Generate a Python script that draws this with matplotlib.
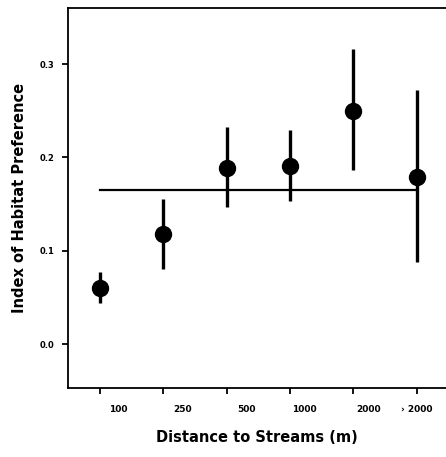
import numpy as np
import matplotlib.pyplot as plt
from matplotlib.transforms import ScaledTranslation, blended_transform_factory

# data
cats = ["100", "250", "500", "1000", "2000", "› 2000"]
pref = [0.060, 0.118, 0.189, 0.191, 0.250, 0.179]
err_lo = [0.044, 0.080, 0.147, 0.153, 0.186, 0.088]
err_hi = [0.077, 0.155, 0.233, 0.229, 0.316, 0.272]
overall = 0.165

x = np.arange(len(cats))
pref = np.array(pref)
yerr = np.array([pref - np.array(err_lo), np.array(err_hi) - pref])

fig = plt.figure(figsize=(4.46, 4.57), dpi=100)
ax = fig.add_axes([0.1525, 0.151, 0.8475, 0.8315])

ax.errorbar(x, pref, yerr=yerr, fmt="o", color="black", ms=11.5,
            elinewidth=2.4, capsize=0, zorder=3)
ax.plot([x[0], x[-1]], [overall, overall], color="black", lw=1.6)

ax.set_xlim(-0.5, 5.46)
ax.set_ylim(-0.047, 0.36)
ax.set_yticks([0.0, 0.1, 0.2, 0.3])
ax.set_yticklabels(["0.0", "0.1", "0.2", "0.3"], fontsize=6, fontweight="bold")
ax.set_xticks(x)
ax.set_xticklabels([])
# labels sit to the right of their ticks in the original (right edges, px)
shift = [28, 29, 29, 27, 27, 16]
base = blended_transform_factory(ax.transData, ax.transAxes)
for xi, c, s in zip(x, cats, shift):
    t = base + ScaledTranslation(s / 100, -22 / 100, fig.dpi_scale_trans)
    ax.text(xi, 0, c, transform=t, fontsize=6.5, fontweight="bold",
            ha="right", va="center")

ax.spines["right"].set_visible(False)
for s in ("left", "top", "bottom"):
    ax.spines[s].set_linewidth(1.3)
ax.tick_params(axis="both", direction="out", length=4, width=1.3, pad=6)

ax.set_xlabel("Distance to Streams (m)", fontsize=10.5, fontweight="bold", labelpad=20)
ax.set_ylabel("Index of Habitat Preference", fontsize=10.5, fontweight="bold", labelpad=9)

fig.savefig("out.png", dpi=100)
